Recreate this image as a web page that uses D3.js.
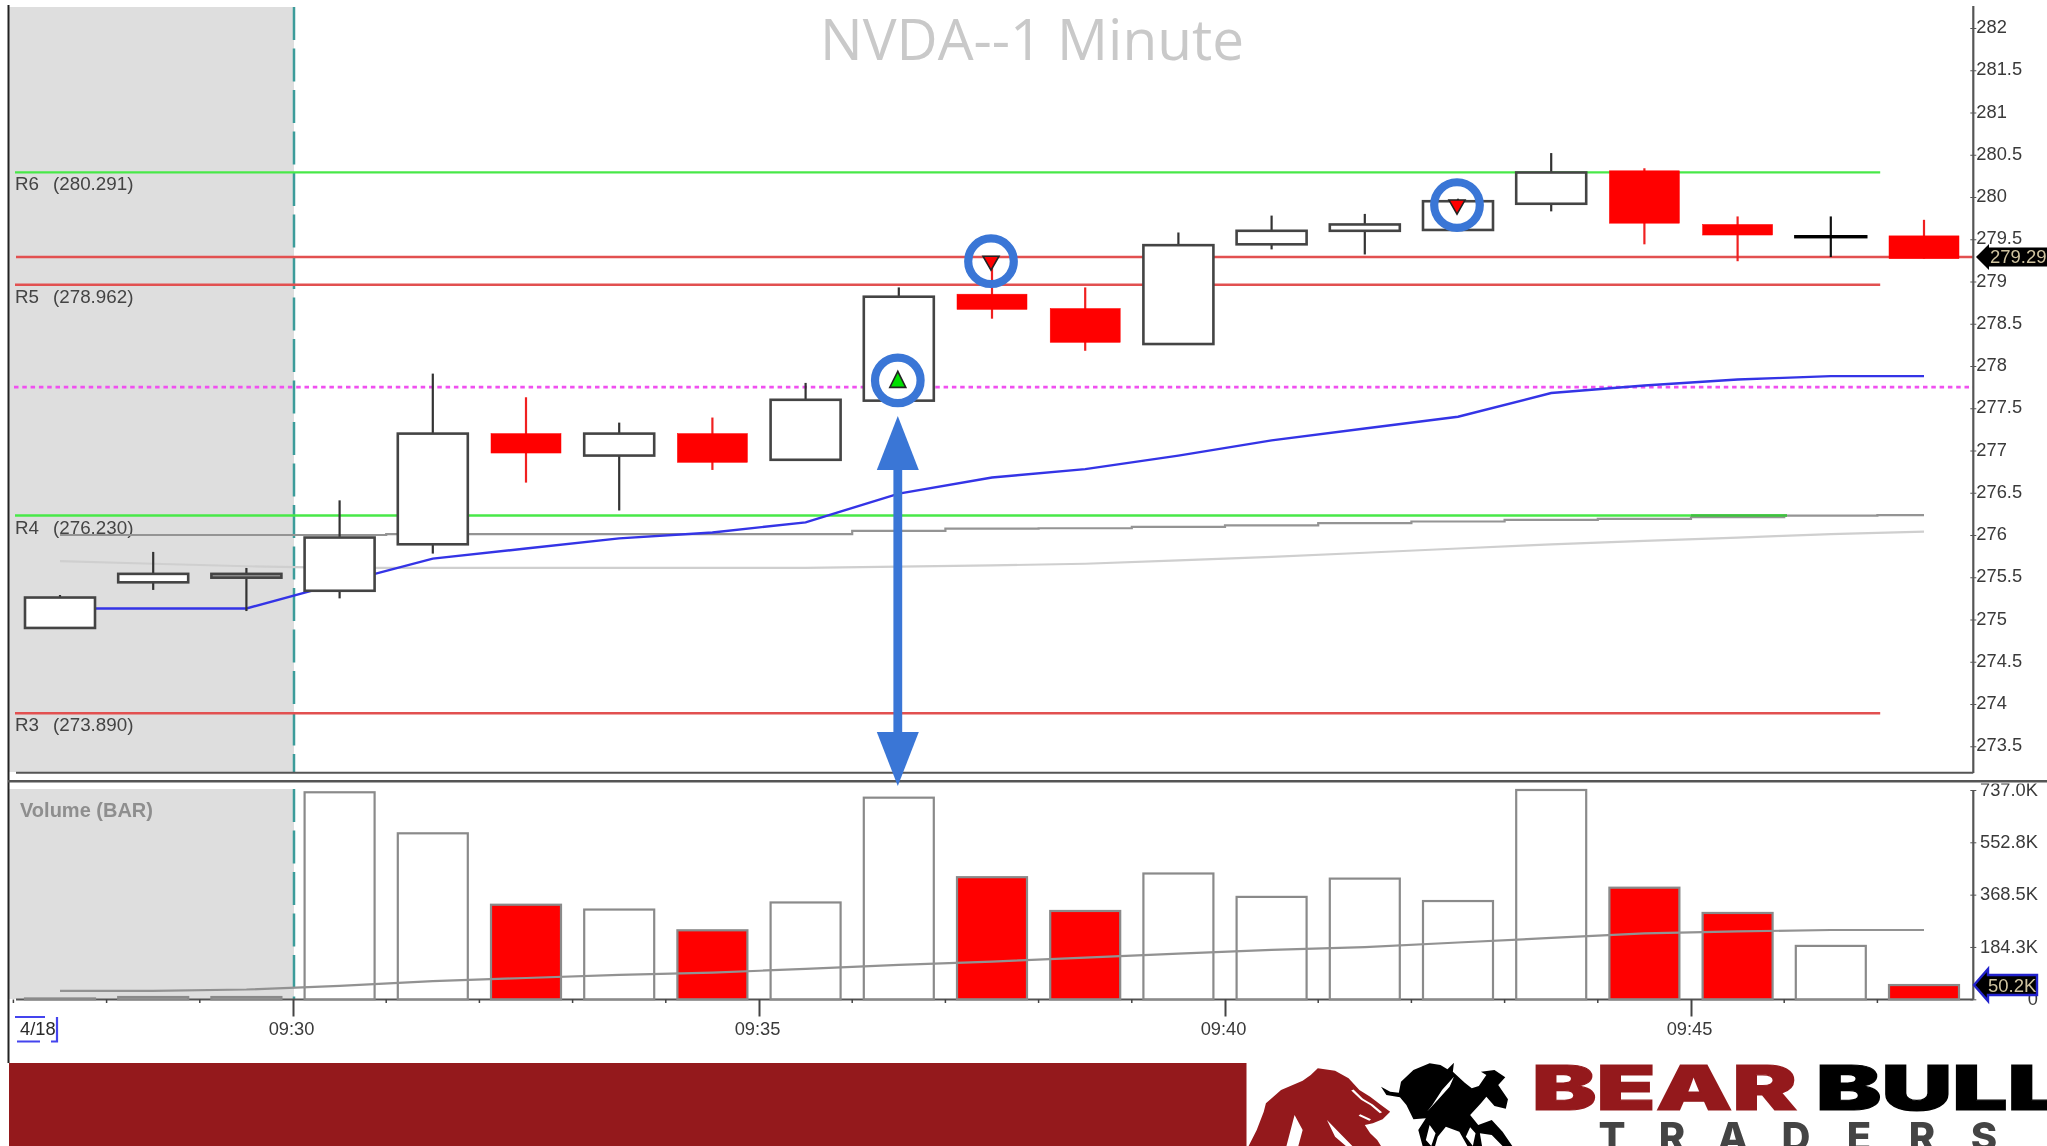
<!DOCTYPE html>
<html><head><meta charset="utf-8">
<script src="https://cdn.jsdelivr.net/npm/d3@7"></script>
<style>
html,body{margin:0;padding:0;background:#fff;overflow:hidden}
svg{display:block;filter:blur(0.65px)}
text{font-family:"Liberation Sans",Arial,sans-serif}
</style></head><body>
<svg id="c" width="2047" height="1146"></svg>
<script>
// ---- data ----
const opens  = [274.90,275.44,275.495,275.34,275.89,277.20,276.94,277.20,276.89,277.59,278.85,278.68,278.26,279.44,279.60,279.61,279.92,280.31,279.675,279.53,279.54];
const highs  = [275.29,275.80,275.61,276.41,277.91,277.63,277.33,277.39,277.80,278.93,279.23,278.93,279.58,279.78,279.80,279.98,280.52,280.34,279.77,279.77,279.73];
const lows   = [274.90,275.35,275.10,275.25,275.78,276.62,276.29,276.77,276.88,277.59,278.56,278.18,278.26,279.38,279.32,279.61,279.83,279.44,279.24,279.29,279.27];
const closes = [275.26,275.54,275.54,275.97,277.20,276.97,277.20,276.86,277.60,278.82,278.67,278.28,279.43,279.60,279.675,279.95,280.29,279.69,279.55,279.53,279.27];
const volumes= [3,8,8,729,584.5,333,316,243,341,710,430,311,443,360.6,425,346,737,393,304,188,50.2];
const vwap   = [275.13,275.13,275.13,275.43,275.72,275.84,275.96,276.03,276.15,276.49,276.68,276.78,276.94,277.12,277.26,277.40,277.68,277.77,277.84,277.88,277.88];
const smaDark= [276.00,276.00,276.00,276.00,276.01,276.01,276.01,276.01,276.01,276.05,276.075,276.08,276.095,276.115,276.14,276.16,276.18,276.19,276.21,276.23,276.235];
const smaLight=[275.69,275.66,275.63,275.61,275.61,275.61,275.61,275.61,275.61,275.625,275.64,275.66,275.70,275.74,275.79,275.84,275.89,275.93,275.97,276.01,276.04];
const volAvg = [30,30,34.5,47,64,75,86,94,107,121,133,147,161,174,184,200,216,232,239,244,244];
const priceTicks=[282,281.5,281,280.5,280,279.5,279,278.5,278,277.5,277,276.5,276,275.5,275,274.5,274,273.5];
const volTicks=[737,552.8,368.5,184.3,0];
const volTickLabels=["737.0K","552.8K","368.5K","184.3K","0"];
const timeTickPos=[2.5,7.5,12.5,17.5];
const timeTickLabels=["09:30","09:35","09:40","09:45"];
const minorTickPos=[-0.5,0.5,1.5,3.5,4.5,5.5,6.5,8.5,9.5,10.5,11.5,13.5,14.5,15.5,16.5,18.5,19.5];
const levelNames=["R6","R5","R4","R3"];
const levelValues=[280.291,278.962,276.230,273.890];
const levelColors=["#48e848","#e25050","#48e848","#e25050"];
const levelEnd=[19.53,19.53,18.53,19.53];
const lastPrice=279.29, lastVolume=50.2, dottedLevel=277.75;
const signalIdx=[9,10,15], signalPrice=[277.83,279.24,279.905], signalDir=["up","down","down"];

// ---- layout ----
const svg=d3.select("#c");
const x=d3.scaleLinear().domain([0,20]).range([60,1924]);
const yP=d3.scaleLinear().domain([282,273.5]).range([28,746.25]);
const yV=d3.scaleLinear().domain([0,737]).range([999.3,790]);
const bodyW=70, axisX=1973.3, leftX=9;
const blue="#3a76d6", idx=d3.range(opens.length);

svg.append("rect").attr("width",2047).attr("height",1146).attr("fill","#fff");

// shaded session
svg.append("rect").attr("x",leftX).attr("y",7).attr("width",285).attr("height",765).attr("fill","#dedede");
svg.append("rect").attr("x",leftX).attr("y",789).attr("width",285).attr("height",210).attr("fill","#dedede");
[[7,772],[789,999]].forEach(([a,b])=>svg.append("line").attr("x1",294).attr("x2",294).attr("y1",a).attr("y2",b)
  .attr("stroke","#3c9c9a").attr("stroke-width",2.5).attr("stroke-dasharray","33 8.5"));

// frames
const frame=(x1,y1,x2,y2,c,w)=>svg.append("line").attr("x1",x1).attr("y1",y1).attr("x2",x2).attr("y2",y2).attr("stroke",c).attr("stroke-width",w);
frame(8.5,5,8.5,1063,"#222",2);
frame(16,772.7,axisX,772.7,"#555",2);
frame(16,999.5,axisX,999.5,"#555",2);

// title
svg.append("text").attr("x",820).attr("y",59.5).attr("font-size",56).attr("textLength",424).attr("lengthAdjust","spacingAndGlyphs")
  .style("font-family","'Open Sans'").attr("fill","#c9c9c9").text("NVDA--1 Minute");

// levels
levelValues.forEach((v,k)=>{
  svg.append("line").attr("x1",15).attr("x2",x(levelEnd[k])).attr("y1",yP(v)).attr("y2",yP(v)).attr("stroke",levelColors[k]).attr("stroke-width",2.4);
  const t=svg.append("text").attr("x",15).attr("y",yP(v)+18).attr("font-size",18.8).attr("fill","#444");
  t.append("tspan").text(levelNames[k]);
  t.append("tspan").attr("x",53).text("("+d3.format(".3f")(v)+")");
});
svg.append("line").attr("x1",16).attr("x2",axisX).attr("y1",yP(lastPrice)).attr("y2",yP(lastPrice)).attr("stroke","#e25050").attr("stroke-width",2.4);
svg.append("line").attr("x1",14).attr("x2",axisX).attr("y1",yP(dottedLevel)).attr("y2",yP(dottedLevel)).attr("stroke","#f050f0").attr("stroke-width",2.6).attr("stroke-dasharray","4.5 3.8");

// moving averages
const line=(yS,c,curve,vals,w)=>svg.append("path").attr("d",d3.line().x((d,i)=>x(i)).y(d=>yS(d)).curve(curve)(vals)).attr("fill","none").attr("stroke",c).attr("stroke-width",w);
line(yP,"#cfcfcf",d3.curveLinear,smaLight,2.2);
line(yP,"#949494",d3.curveStep,smaDark,2.2);
svg.append("line").attr("x1",x(17.5)).attr("x2",x(18.53)).attr("y1",yP(levelValues[2])).attr("y2",yP(levelValues[2])).attr("stroke","#40c040").attr("stroke-width",2.4);
line(yP,"#3434e6",d3.curveLinear,vwap,2.4);

// candles
const isRed=i=>closes[i]<opens[i];
const isDoji=i=>closes[i]===opens[i];
const bodyH=i=>Math.abs(yP(opens[i])-yP(closes[i]));
const cg=svg.append("g").selectAll("g").data(idx).join("g");
cg.append("line").attr("x1",i=>x(i)).attr("x2",i=>x(i)).attr("y1",i=>yP(highs[i])).attr("y2",i=>yP(lows[i]))
  .attr("stroke",i=>isRed(i)?"#f02020":isDoji(i)?"#111":"#333").attr("stroke-width",2.2);
cg.append("rect").attr("x",i=>x(i)-bodyW/2).attr("width",bodyW)
  .attr("y",i=>yP(Math.max(opens[i],closes[i]))).attr("height",i=>Math.max(0.01,bodyH(i)))
  .attr("fill",i=>isRed(i)?"#ff0000":bodyH(i)<5?"#999":"#fff").attr("stroke",i=>isRed(i)?"#ff0000":isDoji(i)?"#000":"#444")
  .attr("stroke-width",i=>isRed(i)?0.5:isDoji(i)?3.4:2.6);

// volume bars
svg.append("g").selectAll("rect").data(idx).join("rect")
  .attr("x",i=>x(i)-bodyW/2).attr("width",bodyW).attr("y",i=>yV(volumes[i])).attr("height",i=>yV(0)-yV(volumes[i]))
  .attr("fill",i=>isRed(i)?"#ff0000":"#fff").attr("stroke","#8a8a8a").attr("stroke-width",2.2);
line(yV,"#929292",d3.curveLinear,volAvg,2.2);
svg.append("text").attr("x",20).attr("y",817).attr("font-size",20).attr("font-weight","bold").attr("fill","#8e8e8e").text("Volume (BAR)");

// price axis
const axP=svg.append("g").attr("transform",`translate(${axisX},0)`).call(d3.axisRight(yP).tickValues(priceTicks).tickFormat(d=>String(d)).tickSizeInner(3).tickSizeOuter(0).tickPadding(1));
axP.select(".domain").attr("d","M0,6V773").attr("stroke","#555").attr("stroke-width",2.2);
axP.selectAll(".tick line").attr("x1",-3).attr("x2",3).attr("stroke","#555");
axP.selectAll(".tick text").attr("x",3).attr("y",-2).attr("dy","0.36em").attr("font-size",18.3).attr("fill","#3a3a3a").style("font-family","'Liberation Sans'");

// volume axis
const axV=svg.append("g").attr("transform",`translate(${axisX},0)`).call(d3.axisRight(yV).tickValues(volTicks).tickFormat((d,i)=>volTickLabels[i]).tickSizeInner(3).tickSizeOuter(0));
axV.select(".domain").attr("d","M0,790V999.5").attr("stroke","#555").attr("stroke-width",2.2);
axV.selectAll(".tick line").attr("x1",-3).attr("x2",3).attr("stroke","#555");
axV.selectAll(".tick text").attr("x",64.7).attr("y",-1.5).attr("text-anchor","end").attr("dy","0.36em").attr("font-size",18.3).attr("fill","#3a3a3a").style("font-family","'Liberation Sans'");
// the top label is cut by the separator line
svg.append("rect").attr("x",1976).attr("y",774).attr("width",71).attr("height",9.5).attr("fill","#fff");
frame(8,781.3,2047,781.3,"#555",2.5);

// time axis
const axT=svg.append("g").attr("transform","translate(0,999.5)").call(d3.axisBottom(x).tickValues(timeTickPos).tickFormat((d,i)=>timeTickLabels[i]).tickSize(17).tickPadding(3));
axT.select(".domain").remove();
axT.selectAll(".tick line").attr("stroke","#444").attr("stroke-width",2);
axT.selectAll(".tick text").attr("font-size",18.3).attr("fill","#3a3a3a").attr("dx",-2).attr("y",23).attr("dy","0.71em").style("font-family","'Liberation Sans'");
svg.append("g").selectAll("line").data(minorTickPos).join("line").attr("x1",d=>x(d)).attr("x2",d=>x(d)).attr("y1",999.5).attr("y2",1003).attr("stroke","#444").attr("stroke-width",1.5);

// date box
svg.append("text").attr("x",20).attr("y",1035).attr("font-size",18.3).attr("fill","#2a2a2a").text("4/18");
svg.append("path").attr("d","M15,1017H45M17,1041.5H40M51,1041.5H57V1017").attr("fill","none").attr("stroke","#4444ee").attr("stroke-width",2.2);

// last-value tags
const tag=(tipX,tipY,headX,halfHead,halfBody,endX,stroke,label,tx)=>{
  svg.append("path").attr("d",`M${tipX},${tipY}L${headX},${tipY-halfHead}V${tipY-halfBody}H${endX}V${tipY+halfBody}H${headX}V${tipY+halfHead}Z`)
    .attr("fill","#000").attr("stroke",stroke).attr("stroke-width",stroke==="none"?0:2.4);
  svg.append("text").attr("x",tx).attr("y",tipY+6.5).attr("font-size",18.5).attr("fill","#cfc3a0").text(label);
};
tag(1976,yP(lastPrice),1989,13,9.5,2047,"none",String(lastPrice),1990);
tag(1974,yV(lastVolume),1988,16,10,2037,"#2222cc",d3.format(".1f")(lastVolume)+"K",1988);

// signals and circles
signalIdx.forEach((s,k)=>{
  const cx=x(s)-1, cy=yP(signalPrice[k]), up=signalDir[k]==="up";
  const pts=up?`${cx},${cy-9} ${cx-8},${cy+7} ${cx+8},${cy+7}`:`${cx-8},${cy-5} ${cx+8},${cy-5} ${cx},${cy+9}`;
  svg.append("polygon").attr("points",pts).attr("fill",up?"#00e000":"#ff0000").attr("stroke","#222").attr("stroke-width",1.6);
  svg.append("circle").attr("cx",cx).attr("cy",cy).attr("r",22.8).attr("fill","none").attr("stroke",blue).attr("stroke-width",8.2);
});

// double arrow
const ax=x(9)-1;
svg.append("rect").attr("x",ax-4.4).attr("y",465).attr("width",8.8).attr("height",272).attr("fill",blue);
svg.append("polygon").attr("points",`${ax},416 ${ax-21},470 ${ax+21},470`).attr("fill",blue);
svg.append("polygon").attr("points",`${ax},786 ${ax-21},732 ${ax+21},732`).attr("fill",blue);

// footer band and logo
svg.append("rect").attr("x",9).attr("y",1063).attr("width",1237.5).attr("height",83).attr("fill","#94191c");
const logo=svg.append("g").attr("transform","translate(1200,1040) scale(0.5403,0.3333)");
logo.append("path").attr("fill","#94191c").attr("d","M90,318 L105,270 L118,215 L122,190 L150,150 L190,122 L205,105 L218,85 L250,92 L275,115 L295,150 L315,170 L335,195 L352,215 L338,238 L320,250 L305,255 L315,280 L328,300 L335,318 Z");
logo.append("path").attr("fill","#fff").attr("d","M175,225 L160,318 H182 L190,270 Z M235,240 L250,290 L270,318 H282 L262,285 Z");
logo.append("path").attr("fill","none").attr("stroke","#fff").attr("stroke-width",5).attr("d","M282,150 L300,178 L318,195 L335,218 M295,225 L315,240");
logo.append("path").attr("fill","#000").attr("d","M335,140 L352,155 L368,158 L372,125 L395,90 L425,70 L445,75 L458,88 L470,68 L468,95 L490,128 L503,145 L516,138 L530,105 L520,95 L545,90 L565,112 L552,135 L570,178 L566,206 L545,198 L530,170 L520,190 L500,225 L515,255 L540,240 L560,275 L578,318 H560 L540,285 L518,280 L522,318 H495 L480,275 L455,260 L440,290 L435,318 H412 L404,270 L418,235 L395,238 L382,195 L370,172 L345,165 Z");
logo.append("path").attr("fill","#fff").attr("d","M470,110 L448,150 L430,195 L420,215 L440,180 L462,140 Z M425,255 L418,300 L428,318 L436,280 Z M500,262 L492,290 L505,318 L510,280 Z");
svg.append("text").attr("x",1532).attr("y",1110).attr("font-size",62).attr("font-weight",900).attr("textLength",265).attr("lengthAdjust","spacingAndGlyphs").style("font-family","Inter").attr("fill","#94191c").attr("stroke","#94191c").attr("stroke-width",1.2).text("BEAR");
svg.append("text").attr("x",1816).attr("y",1110).attr("font-size",62).attr("font-weight",900).attr("textLength",247).attr("lengthAdjust","spacingAndGlyphs").style("font-family","Inter").attr("fill","#000").attr("stroke","#000").attr("stroke-width",1.2).text("BULL");
const traders=["T","R","A","D","E","R","S"], tradersX=[1612,1672,1733,1796,1859,1922,1984];
svg.append("g").selectAll("text").data(traders).join("text").attr("x",(d,i)=>tradersX[i]).attr("y",1151).attr("text-anchor","middle")
  .attr("font-size",40).attr("font-weight",800).style("font-family","Inter").attr("fill","#444").text(d=>d);
</script>
</body></html>
